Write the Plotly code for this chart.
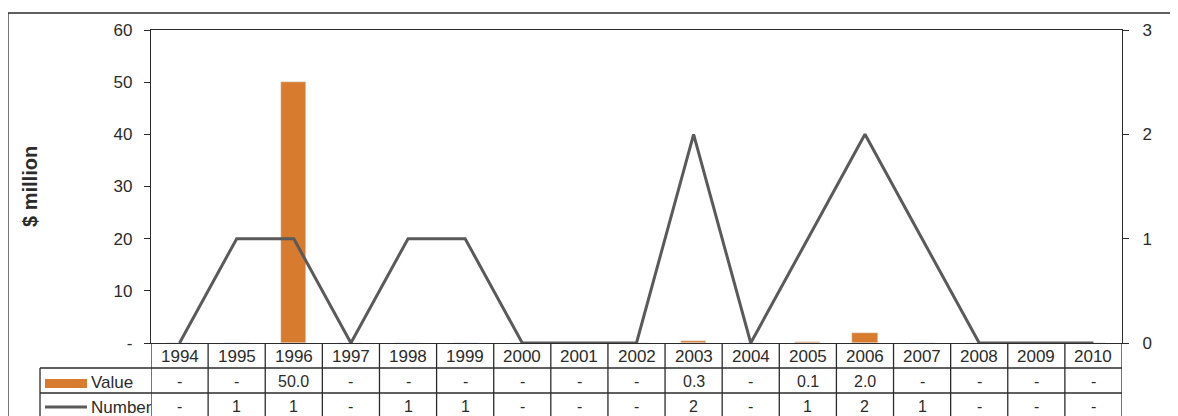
import plotly.graph_objects as go

years = ["1994", "1995", "1996", "1997", "1998", "1999", "2000", "2001", "2002",
         "2003", "2004", "2005", "2006", "2007", "2008", "2009", "2010"]
value_musd = [0, 0, 50.0, 0, 0, 0, 0, 0, 0, 0.3, 0, 0.1, 2.0, 0, 0, 0, 0]
number = [0, 1, 1, 0, 1, 1, 0, 0, 0, 2, 0, 1, 2, 1, 0, 0, 0]

left_ticks = [0, 10, 20, 30, 40, 50, 60]
left_ticktext = ["-", "10", "20", "30", "40", "50", "60"]
right_ticks = [0, 1, 2, 3]

ORANGE = "#D77B2F"
GREY = "#5A5A5A"
INK = "#2B2B2B"
FONT = "Liberation Sans, Arial, sans-serif"

# page has an 8px body margin, so the figure starts at (8, 8) of the window
OFF = 8
WIN_W, WIN_H = 1178, 416
L, R, T, B = 151, 1122, 30, 343  # plot area in window pixels


def px_x(x):
    return (x - L) / (R - L)


def px_y(y):
    return (B - y) / (B - T)


fig = go.Figure()
fig.add_trace(go.Bar(x=years, y=value_musd, name="Value", marker_color=ORANGE,
                     width=0.44, yaxis="y"))
fig.add_trace(go.Scatter(x=years, y=number, name="Number", mode="lines",
                         line=dict(color=GREY, width=3), yaxis="y2"))

shapes = []
line_style = dict(color=INK, width=1.3)
# outer chart border
shapes.append(dict(type="line", xref="paper", yref="paper", x0=px_x(8), x1=px_x(1200),
                   y0=px_y(13), y1=px_y(13), line=line_style))
shapes.append(dict(type="line", xref="paper", yref="paper", x0=px_x(8), x1=px_x(8),
                   y0=px_y(13), y1=px_y(430), line=line_style))
# data table grid
for i in range(len(years) + 1):
    shapes.append(dict(type="line", xref="x", yref="paper", x0=i - 0.5, x1=i - 0.5,
                       y0=0, y1=px_y(430), line=line_style))
for yy in (368, 393):
    shapes.append(dict(type="line", xref="paper", yref="paper", x0=px_x(40), x1=1,
                       y0=px_y(yy), y1=px_y(yy), line=line_style))
shapes.append(dict(type="line", xref="paper", yref="paper", x0=px_x(40), x1=px_x(40),
                   y0=px_y(368), y1=px_y(430), line=line_style))
# legend keys
shapes.append(dict(type="rect", xref="paper", yref="paper", x0=px_x(45), x1=px_x(87),
                   y0=px_y(388), y1=px_y(379), fillcolor=ORANGE, line=dict(width=0)))
shapes.append(dict(type="line", xref="paper", yref="paper", x0=px_x(45), x1=px_x(87),
                   y0=px_y(407), y1=px_y(407), line=dict(color=GREY, width=3)))

annotations = []
cell_font = dict(family=FONT, size=16, color=INK)


def note(x, y, text, font, xref="paper", xanchor="center", angle=0):
    annotations.append(dict(x=x, y=y, xref=xref, yref="paper", text=text, font=font,
                            xanchor=xanchor, yanchor="middle", textangle=angle,
                            showarrow=False))


for i, yr in enumerate(years):
    note(i, px_y(356), yr, dict(family=FONT, size=17, color=INK), xref="x")
    v = value_musd[i]
    note(i, px_y(381), f"{v:.1f}" if v else "-", cell_font, xref="x")
    n = number[i]
    note(i, px_y(406), str(n) if n else "-", cell_font, xref="x")

note(px_x(89), px_y(382), "Value", dict(family=FONT, size=17, color=INK), xanchor="left")
note(px_x(89), px_y(407), "Number", dict(family=FONT, size=17, color=INK), xanchor="left")
note(px_x(30), px_y(187), "<b>$ million</b>", dict(family=FONT, size=20, color=INK), angle=-90)
note(px_x(1166), px_y(190), "<b>Number</b>", dict(family=FONT, size=18, color=INK),
     xanchor="left", angle=-90)

fig.update_layout(
    width=WIN_W - OFF, height=WIN_H - OFF,
    margin=dict(l=L - OFF, r=WIN_W - R, t=T - OFF, b=WIN_H - B, pad=0),
    paper_bgcolor="white", plot_bgcolor="white",
    showlegend=False,
    bargap=0,
    shapes=shapes,
    annotations=annotations,
    xaxis=dict(type="category", range=[-0.5, len(years) - 0.5], showticklabels=False,
               showgrid=False, showline=True, linecolor=INK, linewidth=1.3, mirror=True,
               ticks="", zeroline=False),
    yaxis=dict(range=[0, 60], tickvals=left_ticks, ticktext=left_ticktext, showgrid=False,
               showline=True, linecolor=INK, linewidth=1.3, ticks="outside", ticklen=6,
               tickcolor=INK, zeroline=False, ticklabelstandoff=8,
               tickfont=dict(family=FONT, size=17, color=INK)),
    yaxis2=dict(range=[0, 3], tickvals=right_ticks, overlaying="y", side="right",
                showgrid=False, showline=True, linecolor=INK, linewidth=1.3,
                ticks="outside", ticklen=6, tickcolor=INK, zeroline=False,
                ticklabelstandoff=10,
                tickfont=dict(family=FONT, size=17, color=INK)),
)

fig.write_html("out.html")
